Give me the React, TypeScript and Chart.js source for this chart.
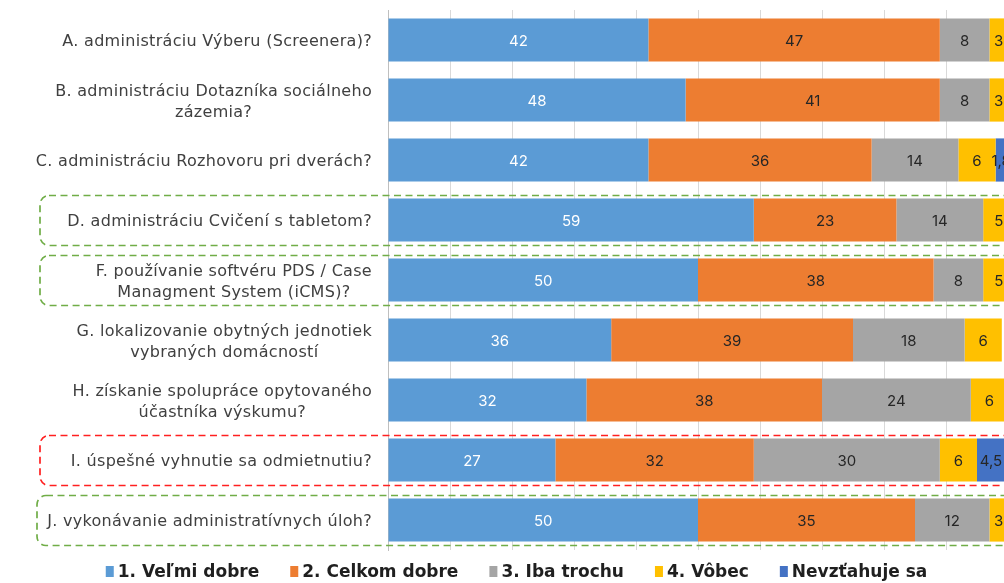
import { useEffect, useRef } from "react";
import { Chart, registerables } from "chart.js";

Chart.register(...registerables);

// Survey items (wrapped lines of each category label)
const categories: string[][] = [
  ["A. administráciu Výberu (Screenera)?"],
  ["B. administráciu Dotazníka sociálneho", "zázemia?"],
  ["C. administráciu Rozhovoru pri dverách?"],
  ["D. administráciu Cvičení s tabletom?"],
  ["F. používanie softvéru PDS / Case", "Managment System (iCMS)?"],
  ["G. lokalizovanie obytných jednotiek", "vybraných domácností"],
  ["H. získanie spolupráce opytovaného", "účastníka výskumu?"],
  ["I. úspešné vyhnutie sa odmietnutiu?"],
  ["J. vykonávanie administratívnych úloh?"],
];

const seriesNames = ["1. Veľmi dobre", "2. Celkom dobre", "3. Iba trochu", "4. Vôbec", "Nevzťahuje sa"];
const velmiDobre = [42, 48, 42, 59, 50, 36, 32, 27, 50];
const celkomDobre = [47, 41, 36, 23, 38, 39, 38, 32, 35];
const ibaTrochu = [8, 8, 14, 14, 8, 18, 24, 30, 12];
const vobec = [3, 3, 6, 5, 5, 6, 6, 6, 3];
const nevztahuje = [0, 0, 1.8, 0, 0, 0, 0, 4.5, 0];
const seriesColors = ["#5B9BD5", "#ED7D31", "#A5A5A5", "#FFC000", "#4472C4"];

const axisMax = 100;
const axisStep = 10;

// Categories outlined with a dashed rounded frame
const framedRows = [
  { index: 3, color: "#70AD47", left: 40 },
  { index: 4, color: "#70AD47", left: 40 },
  { index: 7, color: "#FF2020", left: 40 },
  { index: 8, color: "#70AD47", left: 37 },
];

const LABEL_FONT = "'DejaVu Sans', sans-serif";
const VALUE_FONT = "Inter, 'DejaVu Sans', sans-serif";

const decorPlugin = {
  id: "surveyDecor",
  beforeDatasetsDraw(chart: any) {
    const { ctx } = chart;
    const yScale = chart.scales.y;
    ctx.save();
    ctx.lineWidth = 1.7;
    ctx.setLineDash([7, 4.5]);
    framedRows.forEach((f) => {
      const cy = yScale.getPixelForValue(f.index);
      const top = cy - 24.5;
      const bottom = cy + 25.5;
      ctx.strokeStyle = f.color;
      ctx.beginPath();
      ctx.roundRect(f.left, top, chart.width + 30 - f.left, bottom - top, 9);
      ctx.stroke();
    });
    ctx.restore();
  },
  afterDatasetsDraw(chart: any) {
    const { ctx } = chart;
    ctx.save();
    ctx.font = `15px ${VALUE_FONT}`;
    ctx.textAlign = "center";
    ctx.textBaseline = "alphabetic";
    const digitH = ctx.measureText("0123456789").actualBoundingBoxAscent;
    chart.data.datasets.forEach((ds: any, di: number) => {
      const meta = chart.getDatasetMeta(di);
      meta.data.forEach((bar: any, i: number) => {
        const v = ds.data[i];
        if (!v) return;
        const p = bar.getProps(["x", "y", "base"], true);
        const cx = (p.x + p.base) / 2;
        ctx.fillStyle = di === 0 ? "#FFFFFF" : "#262626";
        ctx.fillText(String(v).replace(".", ","), cx, p.y + digitH / 2);
      });
    });
    ctx.restore();
  },
  afterDraw(chart: any) {
    const { ctx, chartArea } = chart;
    const yScale = chart.scales.y;
    ctx.save();

    // category labels: block right-aligned, lines centred within the block
    ctx.font = `16px ${LABEL_FONT}`;
    (ctx as any).letterSpacing = "0.3px";
    ctx.fillStyle = "#404040";
    ctx.textAlign = "center";
    ctx.textBaseline = "alphabetic";
    const capH = ctx.measureText("H").actualBoundingBoxAscent;
    const lineH = 21;
    const rightEdge = chartArea.left - 16;
    (chart.data.labels as string[][]).forEach((lines, i) => {
      const cy = yScale.getPixelForValue(i);
      const blockW = Math.max(...lines.map((l) => ctx.measureText(l).width));
      const cx = rightEdge - blockW / 2;
      const first = cy - ((lines.length - 1) * lineH) / 2;
      lines.forEach((l, k) => {
        ctx.fillText(l, cx, first + k * lineH + capH / 2);
      });
    });

    // legend
    (ctx as any).letterSpacing = "0px";
    ctx.font = `bold 17px ${LABEL_FONT}`;
    ctx.textAlign = "left";
    const boxW = 8;
    const boxH = 11;
    const boxGap = 4;
    const itemGap = 31;
    const items = chart.data.datasets.map((d: any) => ({
      text: d.label as string,
      color: d.backgroundColor as string,
      w: boxW + boxGap + ctx.measureText(d.label).width,
    }));
    const total = items.reduce((s: number, it: any) => s + it.w, 0) + itemGap * (items.length - 1);
    let x = 516.5 - total / 2;
    const baseline = 577;
    items.forEach((it: any) => {
      ctx.fillStyle = it.color;
      ctx.fillRect(x, baseline - boxH, boxW, boxH);
      ctx.fillStyle = "#1F1F1F";
      ctx.fillText(it.text, x + boxW + boxGap, baseline);
      x += it.w + itemGap;
    });

    ctx.restore();
  },
};

export default function App() {
  const canvasRef = useRef<HTMLCanvasElement | null>(null);

  useEffect(() => {
    const canvas = canvasRef.current;
    if (!canvas) return;
    const series = [velmiDobre, celkomDobre, ibaTrochu, vobec, nevztahuje];
    const chart = new Chart(canvas, {
      type: "bar",
      data: {
        labels: categories as any,
        datasets: series.map((values, i) => ({
          label: seriesNames[i],
          data: values,
          backgroundColor: seriesColors[i],
          borderWidth: 0,
          barPercentage: 0.72,
          categoryPercentage: 1,
        })),
      },
      options: {
        indexAxis: "y",
        responsive: false,
        animation: false,
        layout: { padding: { left: 0, right: 0, top: 10, bottom: 33 } },
        plugins: {
          legend: { display: false },
          tooltip: { enabled: false },
        },
        scales: {
          x: {
            stacked: true,
            min: 0,
            max: axisMax,
            ticks: { display: false, stepSize: axisStep },
            grid: { color: "#D9D9D9", lineWidth: 1, drawTicks: false },
            border: { display: false },
            afterFit: (s: any) => {
              s.height = 0;
            },
          },
          y: {
            stacked: true,
            ticks: { display: false },
            grid: { display: false, drawTicks: false },
            border: { display: true, color: "#BFBFBF", width: 1 },
            afterFit: (s: any) => {
              s.width = 388;
            },
          },
        },
      },
      plugins: [decorPlugin],
    });
    return () => chart.destroy();
  }, []);

  return (
    <div
      style={{
        position: "fixed",
        left: 0,
        top: 0,
        width: 1004,
        height: 583,
        overflow: "hidden",
        background: "#FFFFFF",
      }}
    >
      <canvas ref={canvasRef} width={1008} height={583} style={{ display: "block" }} />
    </div>
  );
}
